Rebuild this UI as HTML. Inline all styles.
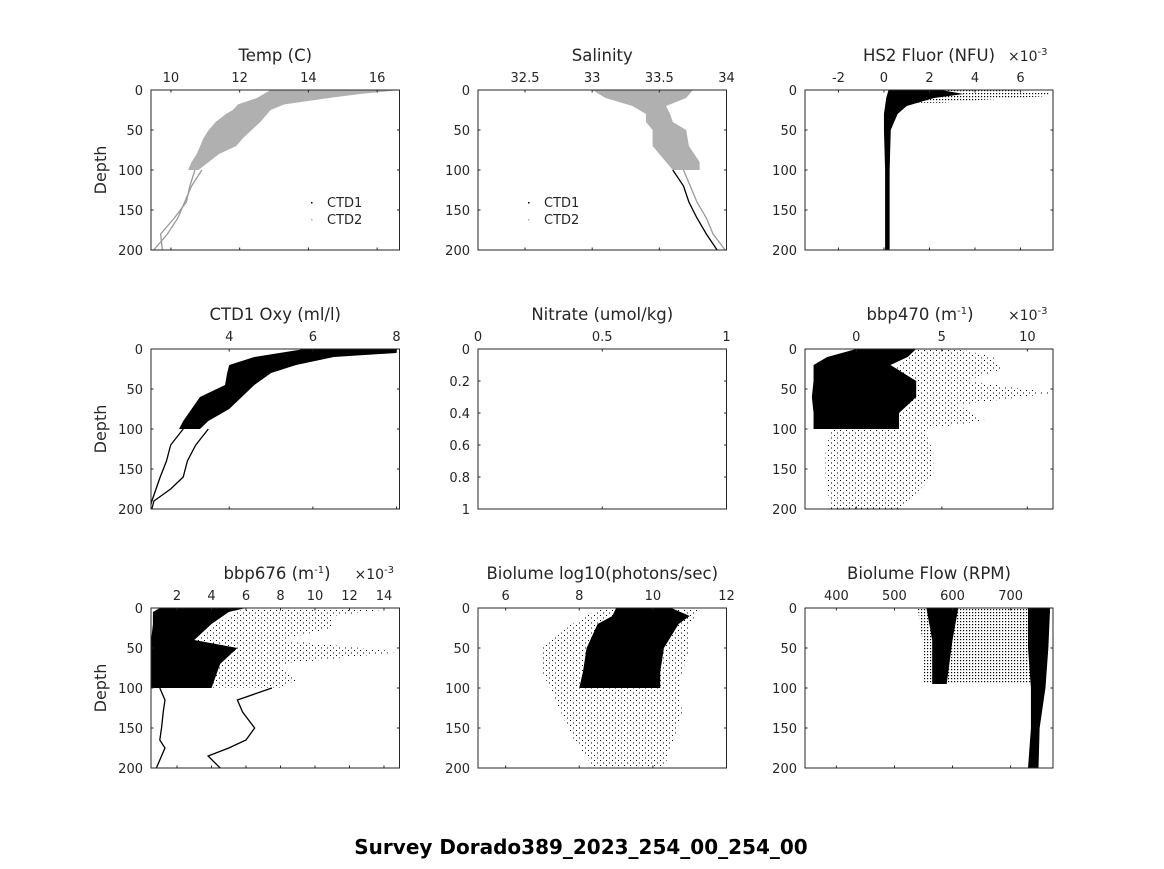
<!DOCTYPE html>
<html><head><meta charset="utf-8"><style>
html,body{margin:0;padding:0;background:#fff;}
svg text{font-family:"DejaVu Sans","Liberation Sans",sans-serif;fill:#262626;}
</style></head><body>
<svg id="fig" width="1164" height="864" viewBox="0 0 1164 864" xmlns="http://www.w3.org/2000/svg">
<defs>
<pattern id="dots" width="3" height="3" patternUnits="userSpaceOnUse"><rect width="1.2" height="1.2" fill="#000"/></pattern>
<pattern id="vdots" width="6" height="5" patternUnits="userSpaceOnUse"><rect width="1" height="1" fill="#000"/><rect x="3" y="2.5" width="1" height="1" fill="#000"/></pattern>
</defs>
<text x="581" y="854" text-anchor="middle" font-size="20" font-weight="bold" style="fill:#000">Survey Dorado389_2023_254_00_254_00</text>
</svg>
<script>
// ---- data arrays (depth in m, values in axis units) ----
const tempBandDepth=[0,5,10,18,25,30,40,50,60,70,80,90,100];
const tempBandLeft=[12.9,12.7,12.5,11.95,11.8,11.6,11.3,11.1,10.95,10.85,10.75,10.6,10.5];
const tempBandRight=[16.7,15.5,14.6,13.3,12.9,12.8,12.6,12.35,12.1,11.9,11.4,11.1,10.8];
const tempLineDepth=[100,120,140,160,180,200];
const tempLineA=[10.9,10.6,10.4,10.2,9.9,9.5];
const tempLineB=[10.7,10.55,10.45,10.1,9.7,9.75];

const salBandDepth=[0,10,20,30,40,50,70,90,100];
const salBandLeft=[33.0,33.1,33.3,33.4,33.4,33.45,33.45,33.55,33.6];
const salBandRight=[33.75,33.7,33.55,33.58,33.6,33.7,33.72,33.8,33.8];
const salLineDepth=[100,120,140,160,180,200];
const salLineA=[33.6,33.68,33.72,33.78,33.85,33.93];
const salLineB=[33.68,33.73,33.78,33.85,33.9,33.99];

const flBandDepth=[0,5,10,20,30,50,100,150,200];
const flBandLeft=[0.2,0.15,0.1,0.05,0.0,0.0,0.05,0.05,0.05];
const flBandRight=[2.5,3.5,2.2,1.0,0.6,0.3,0.25,0.25,0.25];
const flSparseDepth=[0,4,8,12,16];
const flSparseLeft=[2.5,3.5,2.2,1.5,1.0];
const flSparseRight=[5.5,7.3,7.0,4.5,2.5];

const oxyBandDepth=[0,5,10,20,30,45,60,75,90,100];
const oxyBandLeft=[5.8,5.2,4.6,4.0,3.95,3.9,3.3,3.1,2.9,2.8];
const oxyBandRight=[8.0,8.0,6.5,5.6,5.0,4.6,4.3,4.0,3.5,3.3];
const oxyLineDepth=[100,120,140,160,175,190,200];
const oxyLineA=[2.9,2.6,2.5,2.35,2.25,2.15,2.1];
const oxyLineB=[3.5,3.2,3.0,2.9,2.6,2.2,2.15];

const b470BandDepth=[0,10,20,40,60,80,100];
const b470BandLeft=[0.0,-1.7,-2.5,-2.5,-2.6,-2.5,-2.5];
const b470BandRight=[3.5,3.0,2.0,3.5,3.5,2.5,2.5];
const b470SparseDepth=[0,10,25,40,55,70,90,100,130,160,200];
const b470SparseLeft=[3.5,3.0,2.0,3.5,3.5,2.5,2.5,-1.5,-1.8,-1.8,-1.5];
const b470SparseRight=[6.0,8.0,8.5,6.5,11.5,6.0,7.5,4.0,4.5,4.5,2.5];

const b676BandDepth=[0,5,20,40,50,70,100];
const b676BandLeft=[1.0,0.6,0.6,0.5,0.5,0.5,0.5];
const b676BandRight=[6.0,5.0,4.0,3.0,5.5,4.5,4.0];
const b676SparseDepth=[0,10,25,40,55,70,90,100];
const b676SparseLeft=[6.0,5.0,4.0,3.0,5.5,4.5,4.0,4.0];
const b676SparseRight=[14.8,11.0,11.0,8.0,15.0,8.0,9.0,8.0];
const b676LineDepth=[100,115,130,150,165,175,185,200];
const b676LineA=[1.0,1.3,1.2,1.1,1.0,1.3,1.1,0.8];
const b676LineB=[7.5,5.5,5.8,6.5,6.0,5.0,3.8,4.5];

const bioBandDepth=[0,10,20,50,80,100];
const bioBandLeft=[9.0,8.9,8.5,8.2,8.1,8.0];
const bioBandRight=[10.5,11.0,10.7,10.3,10.2,10.2];
const bioSparseDepth=[0,20,50,80,100,130,160,200];
const bioSparseLeft=[8.6,7.8,7.0,7.0,7.2,7.5,7.8,8.4];
const bioSparseRight=[11.3,11.0,11.0,10.8,10.7,10.8,10.6,10.3];

const flowColDepth=[0,50,100,150,200];
const flowColLeft=[730,730,735,735,730];
const flowColRight=[768,765,760,750,748];
const flowCol2Depth=[0,40,95];
const flowCol2Left=[555,565,565];
const flowCol2Right=[610,600,590];
const flowSparseDepth=[0,50,95];
const flowSparseLeft=[540,550,550];
const flowSparseRight=[735,735,735];

const svg=document.getElementById('fig');
const NS='http://www.w3.org/2000/svg';
function mk(tag,attrs,parent){const e=document.createElementNS(NS,tag);for(const k in attrs)e.setAttribute(k,attrs[k]);(parent||svg).appendChild(e);return e;}

function makePanel(o){
  const g=mk('g',{});
  
  
  const sx=v=>o.x0+(v-o.xmin)/(o.xmax-o.xmin)*(o.x1-o.x0);
  const sy=v=>o.y0+(v-o.ymin)/(o.ymax-o.ymin)*(o.y1-o.y0);
  const clipId='clip-'+o.name;
  const cp=mk('clipPath',{id:clipId},g);mk('rect',{x:o.x0,y:o.y0,width:o.x1-o.x0,height:o.y1-o.y0},cp);
  const dg=mk('g',{'clip-path':'url(#'+clipId+')'},g);
  (o.bands||[]).forEach(b=>{
    let pts=[];
    for(let i=0;i<b.d.length;i++)pts.push(sx(b.l[i])+','+sy(b.d[i]));
    for(let i=b.d.length-1;i>=0;i--)pts.push(sx(b.r[i])+','+sy(b.d[i]));
    const p=mk('polygon',{points:pts.join(' '),fill:b.fill},dg);
    
    
  });
  (o.lines||[]).forEach(L=>{
    const pts=L.d.map((d,i)=>sx(L.v[i])+','+sy(d)).join(' ');
    const p=mk('polyline',{points:pts,fill:'none',stroke:L.color,'stroke-width':1.3},dg);
    
    
  });
  const box=mk('rect',{x:o.x0,y:o.y0,width:o.x1-o.x0,height:o.y1-o.y0,fill:'none',stroke:'#262626','stroke-width':1},g);
  
  
  o.xticks.forEach((t,i)=>{
    const x=sx(t);
    mk('line',{x1:x,x2:x,y1:o.y0,y2:o.y0+2.5,stroke:'#262626'},g);
    mk('line',{x1:x,x2:x,y1:o.y1,y2:o.y1-2.5,stroke:'#262626'},g);
    const tx=mk('text',{x:x,y:o.y0-8,'text-anchor':'middle','font-size':13},g);
    tx.textContent=o.xlabels[i];
    
    
  });
  o.yticks.forEach((t,i)=>{
    const y=sy(t);
    mk('line',{x1:o.x0,x2:o.x0+2.5,y1:y,y2:y,stroke:'#262626'},g);
    mk('line',{x1:o.x1,x2:o.x1-2.5,y1:y,y2:y,stroke:'#262626'},g);
    const tx=mk('text',{x:o.x0-8,y:y+5,'text-anchor':'end','font-size':13},g);
    tx.textContent=o.ylabels[i];
    
    
  });
  const tt=mk('text',{x:o.tx||(o.x0+o.x1)/2,y:o.y0-29,'text-anchor':'middle','font-size':16.5},g);
  tt.innerHTML=o.title;
  
  
  if(o.exp){
    const e=mk('text',{x:o.x1-45,y:o.y0-29,'text-anchor':'start','font-size':14},g);
    e.innerHTML='×10<tspan dy="-6" font-size="10">-3</tspan>';
    
    
  }
  if(o.ylabel){
    const yl=mk('text',{x:0,y:0,'text-anchor':'middle','font-size':16,transform:'translate('+(o.x0-45)+','+((o.y0+o.y1)/2)+') rotate(-90)'},g);
    yl.textContent='Depth';
    
    
  }
  if(o.legend){
    const lg=mk('g',{},g);
    
    
    [['CTD1','#000'],['CTD2','#b0b0b0']].forEach((e,i)=>{
      const y=o.legend[1]+i*17;
      mk('rect',{x:o.legend[0],y:y-5,width:1.5,height:1.5,fill:e[1]},lg);
      const t=mk('text',{x:o.legend[0]+16,y:y,'font-size':13},lg);t.textContent=e[0];
      
      
    });
  }
}
const C=[[151,399.5],[478,726.5],[805,1053]];
const R=[[90,250],[349,509],[608,768]];
const depthTicks=[0,50,100,150,200], depthLabels=['0','50','100','150','200'];
function P(c,r,o){o.x0=C[c][0];o.x1=C[c][1];o.y0=R[r][0];o.y1=R[r][1];
  if(!o.yticks){o.ymin=0;o.ymax=200;o.yticks=depthTicks;o.ylabels=depthLabels;}
  o.ylabel=(c===0);makePanel(o);}

P(0,0,{name:'temp',title:'Temp (C)',xmin:9.42,xmax:16.65,xticks:[10,12,14,16],xlabels:['10','12','14','16'],legend:[311,207],
 bands:[{name:'temp-ctd2-cloud',d:tempBandDepth,l:tempBandLeft,r:tempBandRight,fill:'#b0b0b0'}],
 lines:[{name:'temp-profile-a',d:tempLineDepth,v:tempLineA,color:'#999'},{name:'temp-profile-b',d:tempLineDepth,v:tempLineB,color:'#999'}]});
P(1,0,{name:'salinity',title:'Salinity',xmin:32.15,xmax:34.0,xticks:[32.5,33,33.5,34],xlabels:['32.5','33','33.5','34'],legend:[528,207],
 bands:[{name:'salinity-ctd2-cloud',d:salBandDepth,l:salBandLeft,r:salBandRight,fill:'#b0b0b0'}],
 lines:[{name:'salinity-profile-a',d:salLineDepth,v:salLineA,color:'#000'},{name:'salinity-profile-b',d:salLineDepth,v:salLineB,color:'#999'}]});
P(2,0,{name:'hs2-fluor',title:'HS2 Fluor (NFU)',tx:929,exp:true,xmin:-3.47,xmax:7.43,xticks:[-2,0,2,4,6],xlabels:['-2','0','2','4','6'],
 bands:[{name:'fluor-sparse',d:flSparseDepth,l:flSparseLeft,r:flSparseRight,fill:'url(#dots)'},{name:'fluor-cloud',d:flBandDepth,l:flBandLeft,r:flBandRight,fill:'#000'}]});
P(0,1,{name:'oxygen',title:'CTD1 Oxy (ml/l)',xmin:2.13,xmax:8.07,xticks:[4,6,8],xlabels:['4','6','8'],
 bands:[{name:'oxygen-cloud',d:oxyBandDepth,l:oxyBandLeft,r:oxyBandRight,fill:'#000'}],
 lines:[{name:'oxygen-profile-a',d:oxyLineDepth,v:oxyLineA,color:'#000'},{name:'oxygen-profile-b',d:oxyLineDepth,v:oxyLineB,color:'#000'}]});
P(1,1,{name:'nitrate',title:'Nitrate (umol/kg)',xmin:0,xmax:1,xticks:[0,0.5,1],xlabels:['0','0.5','1'],ymin:0,ymax:1,yticks:[0,0.2,0.4,0.6,0.8,1],ylabels:['0','0.2','0.4','0.6','0.8','1']});
P(2,1,{name:'bbp470',title:'bbp470 (m<tspan dy="-6" font-size="10">-1</tspan><tspan dy="6">)</tspan>',tx:920,exp:true,xmin:-3.0,xmax:11.5,xticks:[0,5,10],xlabels:['0','5','10'],
 bands:[{name:'bbp470-sparse',d:b470SparseDepth,l:b470SparseLeft,r:b470SparseRight,fill:'url(#vdots)'},{name:'bbp470-cloud',d:b470BandDepth,l:b470BandLeft,r:b470BandRight,fill:'#000'}]});
P(0,2,{name:'bbp676',title:'bbp676 (m<tspan dy="-6" font-size="10">-1</tspan><tspan dy="6">)</tspan>',tx:277,exp:true,xmin:0.49,xmax:14.9,xticks:[2,4,6,8,10,12,14],xlabels:['2','4','6','8','10','12','14'],
 bands:[{name:'bbp676-sparse',d:b676SparseDepth,l:b676SparseLeft,r:b676SparseRight,fill:'url(#vdots)'},{name:'bbp676-cloud',d:b676BandDepth,l:b676BandLeft,r:b676BandRight,fill:'#000'}],
 lines:[{name:'bbp676-profile-a',d:b676LineDepth,v:b676LineA,color:'#000'},{name:'bbp676-profile-b',d:b676LineDepth,v:b676LineB,color:'#000'}]});
P(1,2,{name:'biolume',title:'Biolume log10(photons/sec)',xmin:5.25,xmax:12,xticks:[6,8,10,12],xlabels:['6','8','10','12'],
 bands:[{name:'biolume-sparse',d:bioSparseDepth,l:bioSparseLeft,r:bioSparseRight,fill:'url(#vdots)'},{name:'biolume-cloud',d:bioBandDepth,l:bioBandLeft,r:bioBandRight,fill:'#000'}]});
P(2,2,{name:'biolume-flow',title:'Biolume Flow (RPM)',xmin:346,xmax:773,xticks:[400,500,600,700],xlabels:['400','500','600','700'],
 bands:[{name:'flow-sparse',d:flowSparseDepth,l:flowSparseLeft,r:flowSparseRight,fill:'url(#dots)'},{name:'flow-column-low',d:flowCol2Depth,l:flowCol2Left,r:flowCol2Right,fill:'#000'},{name:'flow-column-high',d:flowColDepth,l:flowColLeft,r:flowColRight,fill:'#000'}]});
</script>
</body></html>
